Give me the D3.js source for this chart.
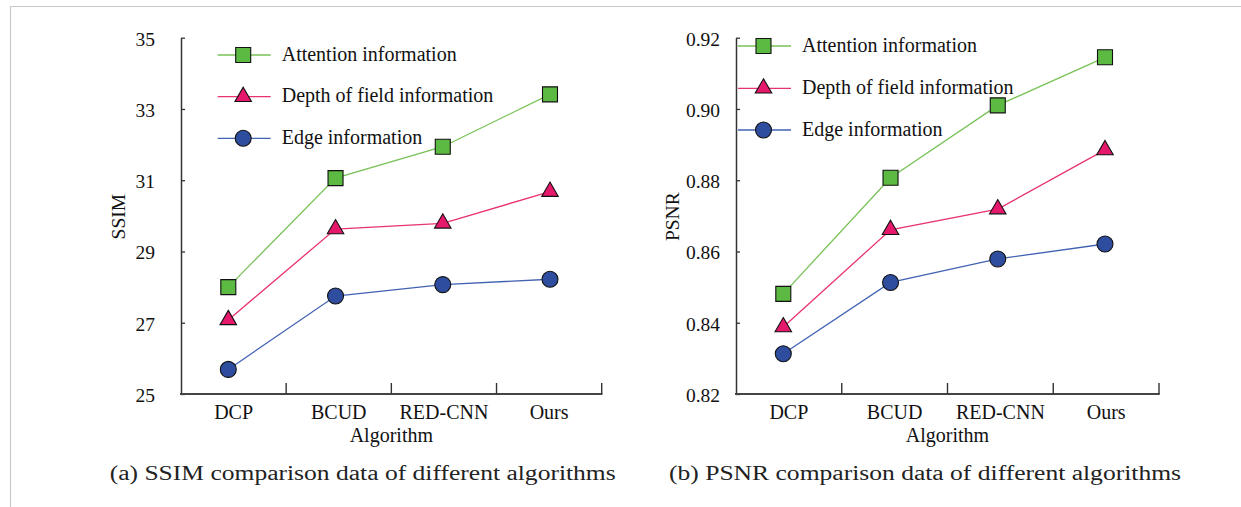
<!DOCTYPE html>
<html>
<head>
<meta charset="utf-8">
<script src="https://d3js.org/d3.v7.min.js"></script>
<style>
    body { margin: 0; background: #fff; }
    svg { display: block; }
    svg text { font-family: "Liberation Serif", "DejaVu Serif", serif; }
</style>
</head>
<body>
<div id="chart"></div>
<script>
// categories
const algorithms = ["DCP", "BCUD", "RED-CNN", "Ours"];
const seriesNames = ["Attention information", "Depth of field information", "Edge information"];

// SSIM panel (a)
const ssimAttention = [28.00, 31.06, 31.94, 33.41];
const ssimDepth     = [27.08, 29.63, 29.79, 30.68];
const ssimEdge      = [25.69, 27.75, 28.07, 28.22];
const ssimTicks     = [25, 27, 29, 31, 33, 35];

// PSNR panel (b)
const psnrAttention = [0.8481, 0.8807, 0.9010, 0.9145];
const psnrDepth     = [0.8388, 0.8661, 0.8719, 0.8885];
const psnrEdge      = [0.8313, 0.8513, 0.8579, 0.8621];
const psnrTicks     = [0.82, 0.84, 0.86, 0.88, 0.90, 0.92];

const W = 1241, H = 507;
const SERIF = "Liberation Serif";
const CAPFONT = "DejaVu Serif";
const styles = [
    { line: "#78c257", fill: "#5cb942", shape: d3.symbolSquare, size: 225 },
    { line: "#e8336f", fill: "#e6186b", shape: d3.symbolTriangle, size: 118 },
    { line: "#4262b3", fill: "#2f4d9e", shape: d3.symbolCircle, size: 201 }
];

const svg = d3.select("#chart").append("svg")
    .attr("width", W).attr("height", H);

// frame lines of the page
svg.append("line").attr("x1", 10).attr("x2", W).attr("y1", 6.5).attr("y2", 6.5)
    .attr("stroke", "#c8c8c8").attr("stroke-width", 1.2);
svg.append("line").attr("x1", 10.5).attr("x2", 10.5).attr("y1", 6.5).attr("y2", H)
    .attr("stroke", "#c8c8c8").attr("stroke-width", 1.2);

function drawPanel(cfg) {
    const top = 37.7, bottom = 394;
    const x = d3.scaleBand().domain(algorithms).range([cfg.left, cfg.right]);
    const xp = d3.scalePoint().domain(algorithms).range([cfg.left + 47.3, cfg.left + 369]);
    const y = d3.scaleLinear().domain(cfg.domain).range([bottom, top]);
    const g = svg.append("g");

    // y axis
    const yAxis = g.append("g")
        .attr("transform", "translate(" + cfg.left + ",0)")
        .call(d3.axisLeft(y).tickValues(cfg.ticks).tickFormat(cfg.fmt)
            .tickSize(-4).tickSizeOuter(0).tickPadding(cfg.pad));
    yAxis.attr("font-family", null);
    yAxis.select(".domain").attr("stroke", "#333").attr("stroke-width", 1.5);
    yAxis.selectAll(".tick line").attr("stroke", "#333").attr("stroke-width", 1.3);
    yAxis.selectAll(".tick text")
        .attr("font-family", SERIF).attr("font-size", 19.5)
        .attr("fill", "#111").attr("dy", "0.38em");

    // x axis: labels at band centres, ticks at band edges pointing up
    const xAxis = g.append("g")
        .attr("transform", "translate(0," + bottom + ")")
        .call(d3.axisBottom(x).tickSize(0).tickPadding(10.5));
    xAxis.attr("font-family", null);
    xAxis.select(".domain").remove();
    xAxis.selectAll(".tick text")
        .attr("font-family", SERIF).attr("font-size", 20).attr("fill", "#111");
    g.append("line")
        .attr("x1", cfg.left - 1).attr("x2", cfg.right + 0.7)
        .attr("y1", bottom).attr("y2", bottom)
        .attr("stroke", "#444").attr("stroke-width", 2);
    g.selectAll(".bandtick").data(algorithms).enter().append("line")
        .attr("x1", d => x(d) + x.bandwidth()).attr("x2", d => x(d) + x.bandwidth())
        .attr("y1", bottom).attr("y2", bottom - 11)
        .attr("stroke", "#333").attr("stroke-width", 1.4);

    // axis titles
    g.append("text")
        .attr("transform", "translate(" + cfg.ytitleX + "," + 216.7 + ") rotate(-90)")
        .attr("text-anchor", "middle").attr("dy", "0.35em")
        .attr("font-family", SERIF).attr("font-size", 19.5).attr("fill", "#111")
        .text(cfg.ytitle);
    g.append("text")
        .attr("x", (cfg.left + cfg.right) / 2).attr("y", 442)
        .attr("text-anchor", "middle")
        .attr("font-family", SERIF).attr("font-size", 20).attr("fill", "#111")
        .text("Algorithm");

    // series
    const line = d3.line().x((d, i) => xp(algorithms[i])).y(d => y(d));
    cfg.series.forEach(function (vals, k) {
        const s = styles[k];
        g.append("path").attr("d", line(vals))
            .attr("fill", "none").attr("stroke", s.line).attr("stroke-width", 1.3);
        g.selectAll(".m" + k).data(vals).enter().append("path")
            .attr("d", d3.symbol().type(s.shape).size(s.size))
            .attr("transform", (d, i) => "translate(" + xp(algorithms[i]) + "," + y(d) + ")")
            .attr("fill", s.fill).attr("stroke", "#111").attr("stroke-width", 1.1);
    });

    // legend
    const lg = g.append("g");
    seriesNames.forEach(function (name, k) {
        const s = styles[k];
        const ry = cfg.legY[k];
        lg.append("line").attr("x1", cfg.legX).attr("x2", cfg.legX + 53)
            .attr("y1", ry).attr("y2", ry).attr("stroke", s.line).attr("stroke-width", 1.3);
        lg.append("path").attr("d", d3.symbol().type(s.shape).size(s.size))
            .attr("transform", "translate(" + (cfg.legX + 25.5) + "," + ry + ")")
            .attr("fill", s.fill).attr("stroke", "#111").attr("stroke-width", 1.1);
        lg.append("text").attr("x", cfg.legX + 64).attr("y", ry + 5.7)
            .attr("font-family", SERIF).attr("font-size", 20).attr("fill", "#111")
            .text(name);
    });

    // caption
    svg.append("text")
        .attr("x", cfg.capX).attr("y", 480)
        .attr("font-family", CAPFONT).attr("font-size", 20).attr("fill", "#222")
        .attr("textLength", cfg.capW).attr("lengthAdjust", "spacingAndGlyphs")
        .text(cfg.caption);
}

drawPanel({
    left: 181, right: 601.7, domain: [25, 35], ticks: ssimTicks, fmt: d3.format("d"), pad: 26,
    ytitle: "SSIM", ytitleX: 117.7,
    series: [ssimAttention, ssimDepth, ssimEdge],
    legX: 217.7, legY: [55, 96.7, 138.3],
    caption: "(a) SSIM comparison data of different algorithms", capX: 109.7, capW: 506
});

drawPanel({
    left: 736, right: 1159, domain: [0.82, 0.92], ticks: psnrTicks, fmt: d3.format(".2f"), pad: 16,
    ytitle: "PSNR", ytitleX: 671.9,
    series: [psnrAttention, psnrDepth, psnrEdge],
    legX: 738, legY: [46, 88.3, 130],
    caption: "(b) PSNR comparison data of different algorithms", capX: 669, capW: 512
});
</script>
</body>
</html>
